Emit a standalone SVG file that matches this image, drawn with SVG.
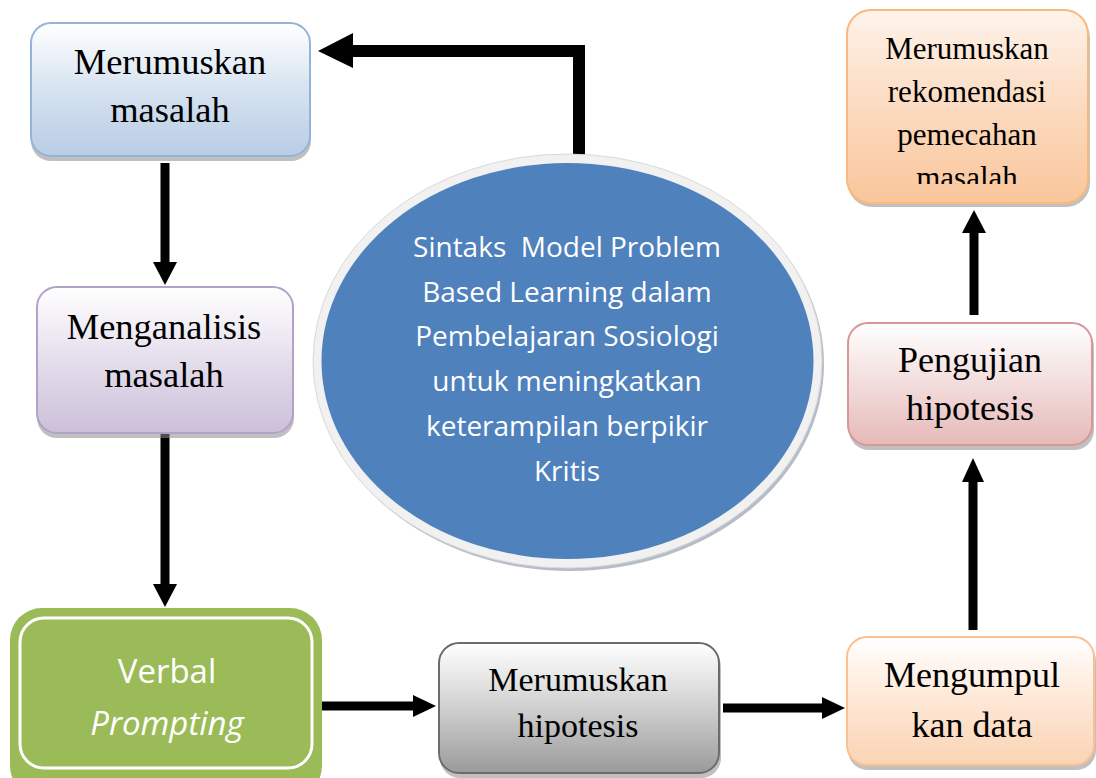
<svg xmlns="http://www.w3.org/2000/svg" width="1096" height="778" viewBox="0 0 1096 778">
<style>
.t{font-family:"Liberation Serif","Times New Roman",serif;fill:#000;text-anchor:middle}
.c{font-family:"Open Sans","Noto Sans",sans-serif;fill:#fff;text-anchor:middle}
.sh{fill:#8c8c8c;opacity:.55}
.ar{fill:#000}
.sf{stroke:#000;fill:none}
</style>
<defs>
<linearGradient id="gBlue" x1="0" y1="0" x2="0" y2="1"><stop offset="0" stop-color="#ffffff"/><stop offset="0.55" stop-color="#d3e0ef"/><stop offset="1" stop-color="#b9cde5"/></linearGradient>
<linearGradient id="gPurple" x1="0" y1="0" x2="0" y2="1"><stop offset="0" stop-color="#ffffff"/><stop offset="0.55" stop-color="#e2dbea"/><stop offset="1" stop-color="#ccc0da"/></linearGradient>
<linearGradient id="gGrey" x1="0" y1="0" x2="0" y2="1"><stop offset="0" stop-color="#ffffff"/><stop offset="0.5" stop-color="#d0d0d0"/><stop offset="1" stop-color="#9a9a9a"/></linearGradient>
<linearGradient id="gPeach" x1="0" y1="0" x2="0" y2="1"><stop offset="0" stop-color="#ffffff"/><stop offset="0.55" stop-color="#fde5d2"/><stop offset="1" stop-color="#fbd4b4"/></linearGradient>
<linearGradient id="gPeach2" x1="0" y1="0" x2="0" y2="1"><stop offset="0" stop-color="#fef3ea"/><stop offset="0.6" stop-color="#fbd6b8"/><stop offset="1" stop-color="#fac69b"/></linearGradient>
<linearGradient id="gPink" x1="0" y1="0" x2="0" y2="1"><stop offset="0" stop-color="#ffffff"/><stop offset="0.55" stop-color="#f1d9d8"/><stop offset="1" stop-color="#e6b9b8"/></linearGradient>
<clipPath id="clipTop"><rect x="846" y="8" width="246" height="176"/></clipPath>
</defs>

<g id="connectors">
<polyline class="sf" points="579,165 579,51 350,51" stroke-width="12" stroke-linejoin="miter"/>
<polygon class="ar" points="318,51 353,33 353,68"/>
<line class="sf" x1="165" y1="163" x2="165" y2="264" stroke-width="9"/>
<polygon class="ar" points="153,262 177,262 165,285"/>
<line class="sf" x1="165" y1="428" x2="165" y2="586" stroke-width="9"/>
<polygon class="ar" points="153,584 177,584 165,607"/>
<line class="sf" x1="317" y1="706" x2="415" y2="706" stroke-width="9"/>
<polygon class="ar" points="413,695 413,717 436,706"/>
<line class="sf" x1="723" y1="708" x2="824" y2="708" stroke-width="9"/>
<polygon class="ar" points="822,697 822,719 845,708"/>
<line class="sf" x1="973" y1="630" x2="973" y2="480" stroke-width="9"/>
<polygon class="ar" points="962,482 984,482 973,458"/>
<line class="sf" x1="974" y1="315" x2="974" y2="231" stroke-width="9"/>
<polygon class="ar" points="962,233 986,233 974,210"/>
</g>

<g id="node-center">
<ellipse cx="570" cy="364" rx="254" ry="207" fill="#a4acba" opacity=".8"/>
<ellipse cx="567.5" cy="361" rx="254.5" ry="207" fill="#f1f1f1" stroke="#d9d9d9" stroke-width="1"/>
<ellipse cx="567.5" cy="361" rx="246" ry="198" fill="#4f81bd"/>
<text class="c" font-size="28" x="567" y="257" xml:space="preserve">Sintaks  Model Problem</text>
<text class="c" font-size="28" x="567" y="302">Based Learning dalam</text>
<text class="c" font-size="28" x="567" y="346">Pembelajaran Sosiologi</text>
<text class="c" font-size="28" x="567" y="391">untuk meningkatkan</text>
<text class="c" font-size="28" x="567" y="436">keterampilan berpikir</text>
<text class="c" font-size="28" x="567" y="481">Kritis</text>
</g>

<g id="node-merumuskan-masalah">
<rect class="sh" x="31" y="27" width="280" height="134" rx="20"/>
<rect x="31" y="23" width="279" height="133" rx="20" fill="url(#gBlue)" stroke="#95b3d7" stroke-width="2"/>
<text class="t" font-size="36.5" x="170" y="74">Merumuskan</text>
<text class="t" font-size="36.5" x="170" y="122">masalah</text>
</g>

<g id="node-menganalisis">
<rect class="sh" x="37" y="291" width="257" height="147" rx="20"/>
<rect x="37" y="287" width="256" height="146" rx="20" fill="url(#gPurple)" stroke="#b3a2c7" stroke-width="2"/>
<text class="t" font-size="36.5" x="164" y="339">Menganalisis</text>
<text class="t" font-size="36.5" x="164" y="387">masalah</text>
</g>

<g id="node-verbal">
<rect x="10" y="608" width="312" height="190" rx="32" fill="#9bbb59"/>
<rect x="20" y="618" width="292" height="150" rx="24" fill="#9bbb59" stroke="#ffffff" stroke-width="3"/>
<text class="c" font-size="33" x="167" y="683">Verbal</text>
<text class="c" font-size="33" x="167" y="735" font-style="italic">Prompting</text>
</g>

<g id="node-merumuskan-hipotesis">
<rect class="sh" x="440" y="647" width="281" height="131" rx="20"/>
<rect x="439" y="643" width="280" height="130" rx="20" fill="url(#gGrey)" stroke="#6b6b6b" stroke-width="2"/>
<text class="t" font-size="34" x="578" y="691">Merumuskan</text>
<text class="t" font-size="34" x="578" y="737">hipotesis</text>
</g>

<g id="node-mengumpulkan">
<rect class="sh" x="848" y="641" width="248" height="129" rx="20"/>
<rect x="847" y="637" width="247" height="128" rx="20" fill="url(#gPeach)" stroke="#fac090" stroke-width="2"/>
<text class="t" font-size="36" x="972" y="687">Mengumpul</text>
<text class="t" font-size="36" x="972" y="737">kan data</text>
</g>

<g id="node-pengujian">
<rect class="sh" x="849" y="327" width="245" height="123" rx="20"/>
<rect x="848" y="323" width="244" height="122" rx="20" fill="url(#gPink)" stroke="#d99694" stroke-width="2"/>
<text class="t" font-size="36" x="970" y="372">Pengujian</text>
<text class="t" font-size="36" x="970" y="420">hipotesis</text>
</g>

<g id="node-rekomendasi">
<rect class="sh" x="848" y="14" width="242" height="193" rx="24"/>
<rect x="847" y="10" width="241" height="193" rx="24" fill="url(#gPeach2)" stroke="#f9b97e" stroke-width="2"/>
<g clip-path="url(#clipTop)">
<text class="t" font-size="31" x="967" y="59">Merumuskan</text>
<text class="t" font-size="31" x="967" y="102">rekomendasi</text>
<text class="t" font-size="31" x="967" y="145">pemecahan</text>
<text class="t" font-size="31" x="967" y="188">masalah</text>
</g>
</g>
</svg>
